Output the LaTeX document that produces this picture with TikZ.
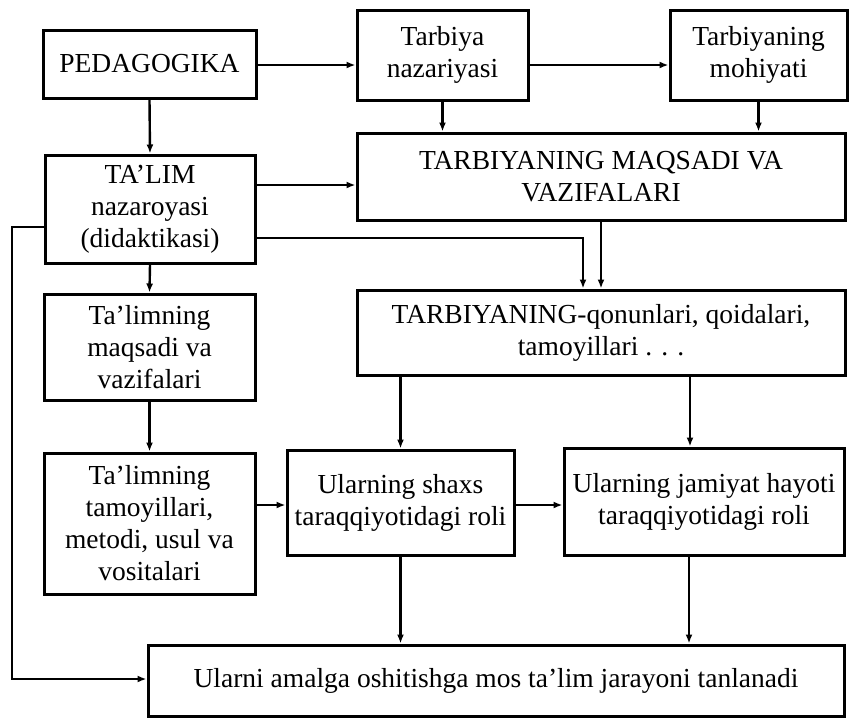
\documentclass[tikz,border=0pt]{standalone}
\usepackage{fontspec}
\setmainfont{Liberation Serif}
\usetikzlibrary{arrows.meta}
\usetikzlibrary{positioning}

\begin{document}
\begin{tikzpicture}[x=1pt, y=-1pt, box/.style={draw, line width=3pt, rectangle, inner sep=0pt, align=center, font=\fontsize{27.5}{32}\selectfont}, arr/.style={line width=2.4pt, -{Latex[length=9pt,width=7pt]}}]
	\useasboundingbox (0,0) rectangle (856,723);
	\node[box, minimum width=213pt, minimum height=68pt] (ped) at (149.5,64) {PEDAGOGIKA};
	\node[box, minimum width=171pt, minimum height=90pt] (tn) at (442.5,55) {Tarbiya\\nazariyasi};
	\node[box, minimum width=177pt, minimum height=90pt] (tm) at (758.5,55) {Tarbiyaning\\mohiyati};
	\node[box, minimum width=488pt, minimum height=87pt] (tmv) at (601,176.5) {TARBIYANING MAQSADI VA\\VAZIFALARI};
	\node[box, minimum width=210pt, minimum height=108pt] (talim) at (150,209) {TA’LIM\\nazaroyasi\\(didaktikasi)};
	\node[box, minimum width=488pt, minimum height=85pt] (tq) at (601,332.5) {TARBIYANING-qonunlari, qoidalari,\\tamoyillari . . .};
	\node[box, minimum width=211pt, minimum height=106pt] (tmaq) at (149.5,347) {Ta’limning\\maqsadi va\\vazifalari};
	\node[box, minimum width=211pt, minimum height=141pt] (ttam) at (149.5,523.5) {Ta’limning\\tamoyillari,\\metodi, usul va\\vositalari};
	\node[box, minimum width=227pt, minimum height=105pt] (shaxs) at (400.5,502.5) {Ularning shaxs\\taraqqiyotidagi roli};
	\node[box, minimum width=280pt, minimum height=107pt] (jam) at (704,501.5) {Ularning jamiyat hayoti\\taraqqiyotidagi roli};
	\node[box, minimum width=696pt, minimum height=71pt] (ular) at (496,680.5) {Ularni amalga oshitishga mos ta’lim jarayoni tanlanadi};
	\coordinate (c1) at (583,238);
	\coordinate (c2) at (12,227);
	\coordinate (c3) at (12,679);
	\draw[arr] (ped.east |- 0,65) -- (tn.west |- 0,65);
	\draw[arr] (tn.east |- 0,65) -- (tm.west |- 0,65);
	\draw[arr] (tn.south) -- (tn.south |- tmv.north);
	\draw[arr] (tm.south) -- (tm.south |- tmv.north);
	\draw[arr] (ped.south) -- (talim.north);
	\draw[arr] (talim.east |- 0,185) -- (tmv.west |- 0,185);
	\draw[arr] (talim.east |- c1) -- (c1) -- (c1 |- tq.north);
	\draw[arr] (tmv.south) -- (tq.north);
	\draw[arr] (talim.west |- c2) -- (c2) -- (c3) -- (c3 -| ular.west);
	\draw[arr] (talim.south) -- (tmaq.north);
	\draw[arr] (tmaq.south) -- (ttam.north);
	\draw[arr] (ttam.east |- 0,505) -- (shaxs.west |- 0,505);
	\draw[arr] (shaxs.east |- 0,505) -- (jam.west |- 0,505);
	\draw[arr] (tq.south -| shaxs.south) -- (shaxs.north);
	\draw[arr] (tq.south -| 690,0) -- (690,0 |- jam.north);
	\draw[arr] (shaxs.south) -- (shaxs.south |- ular.north);
	\draw[arr] (jam.south -| 689,0) -- (689,0 |- ular.north);
\end{tikzpicture}
\end{document}
